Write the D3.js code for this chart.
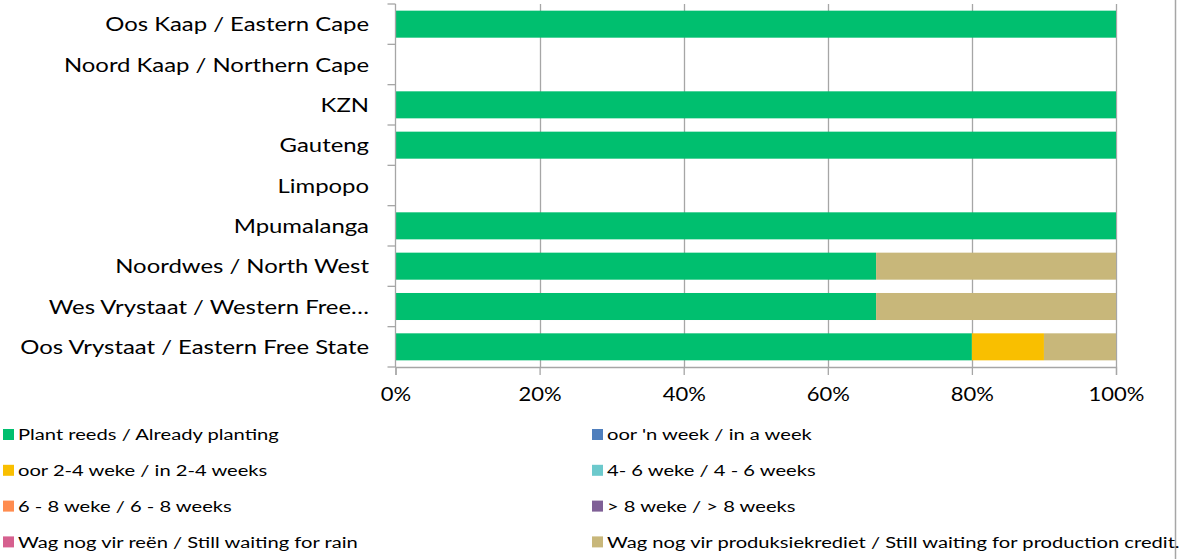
<!DOCTYPE html>
<html>
<head>
<meta charset="utf-8">
<script src="https://cdn.jsdelivr.net/npm/d3@7"></script>
<style>
  body { margin: 0; background: #fff; }
  svg { display: block; font-family: Lato, "Open Sans", sans-serif; }
</style>
</head>
<body>
<svg id="chart" width="1182" height="559"></svg>
<script>
// provinces, top to bottom as drawn
var provinces = ['Oos Kaap / Eastern Cape', 'Noord Kaap / Northern Cape', 'KZN', 'Gauteng', 'Limpopo',
    'Mpumalanga', 'Noordwes / North West', 'Wes Vrystaat / Western Free\u2026', 'Oos Vrystaat / Eastern Free State']

var seriesNames = ['Plant reeds / Already planting', "oor 'n week / in a week", 'oor 2-4 weke / in 2-4 weeks',
    '4- 6 weke / 4 - 6 weeks', '6 - 8 weke / 6 - 8 weeks', '> 8 weke / > 8 weeks',
    'Wag nog vir re\u00ebn / Still waiting for rain', 'Wag nog vir produksiekrediet / Still waiting for production credit.']

var seriesColors = ['#00bf6f', '#4f7fbd', '#f9bf00', '#6cc9cc', '#ff8c4f', '#7f5f96', '#d6608f', '#c8b77a']

// shares per province (fractions), one array per series
var alreadyPlanting = [1, 0, 1, 1, 0, 1, 0.667, 0.667, 0.8]
var inAWeek         = [0, 0, 0, 0, 0, 0, 0, 0, 0]
var in2to4          = [0, 0, 0, 0, 0, 0, 0, 0, 0.1]
var in4to6          = [0, 0, 0, 0, 0, 0, 0, 0, 0]
var in6to8          = [0, 0, 0, 0, 0, 0, 0, 0, 0]
var over8           = [0, 0, 0, 0, 0, 0, 0, 0, 0]
var waitingRain     = [0, 0, 0, 0, 0, 0, 0, 0, 0]
var waitingCredit   = [0, 0, 0, 0, 0, 0, 0.333, 0.333, 0.1]

var xTicks = [0, 0.2, 0.4, 0.6, 0.8, 1]

var seriesValues = [alreadyPlanting, inAWeek, in2to4, in4to6, in6to8, over8, waitingRain, waitingCredit]

var rows = provinces.map((p, i) => {
    var r = {province: p}
    seriesNames.forEach((s, j) => { r[s] = seriesValues[j][i] })
    return r
})

var svg = d3.select('#chart')
var plot = {left: 395.5, right: 1116, top: 4, bottom: 367}

var xs = d3.scaleLinear().domain([0, 1]).range([plot.left, plot.right])
var ys = d3.scaleBand().domain(provinces).range([plot.top, plot.bottom]).paddingInner(0.33).paddingOuter(0.165)

// right border of the chart area
svg.append('line').attr('x1', 1175.5).attr('x2', 1175.5).attr('y1', 0).attr('y2', 559)
    .style('stroke', '#a6a6a6').style('stroke-width', 1.5)

// gridlines
svg.append('g').selectAll('line').data(xTicks.slice(1)).enter().append('line')
    .attr('x1', d => Math.round(xs(d)) + 0.5).attr('x2', d => Math.round(xs(d)) + 0.5)
    .attr('y1', plot.top).attr('y2', plot.bottom)
    .style('stroke', '#a6a6a6').style('stroke-width', 1.3)

var stack = d3.stack().keys(seriesNames)(rows)

svg.append('g').selectAll('g').data(stack).enter().append('g')
    .style('fill', (d, i) => seriesColors[i])
    .selectAll('rect').data(d => d.filter(v => v[1] - v[0] > 0)).enter().append('rect')
    .attr('x', d => xs(d[0]))
    .attr('width', d => xs(d[1]) - xs(d[0]))
    .attr('y', d => ys(d.data.province))
    .attr('height', ys.bandwidth())

// x axis
var xAxis = svg.append('g').attr('transform', `translate(0,${plot.bottom})`)
    .call(d3.axisBottom(xs).tickValues(xTicks).tickFormat(d3.format('.0%')).tickSize(8).tickPadding(12))
xAxis.select('.domain').style('stroke', '#a6a6a6').style('stroke-width', 1.3)
xAxis.selectAll('.tick line').style('stroke', '#a6a6a6').style('stroke-width', 1.3)
xAxis.selectAll('text').style('font-size', '20px').style('fill', '#000').style('font-family', 'Lato, sans-serif')
    .attr('transform', 'scale(1.1,1)')

// y axis: ticks sit between categories
var yBounds = d3.range(provinces.length + 1).map(i => plot.top + i * (plot.bottom - plot.top) / provinces.length)
svg.append('line').attr('x1', plot.left).attr('x2', plot.left).attr('y1', plot.top).attr('y2', plot.bottom)
    .style('stroke', '#a6a6a6').style('stroke-width', 1.3)
svg.append('g').selectAll('line').data(yBounds).enter().append('line')
    .attr('x1', plot.left - 8).attr('x2', plot.left)
    .attr('y1', d => d).attr('y2', d => d)
    .style('stroke', '#a6a6a6').style('stroke-width', 1.3)

svg.append('g').selectAll('text').data(provinces).enter().append('text')
    .attr('transform', d => `translate(369,${ys(d) + ys.bandwidth() / 2}) scale(1.195,1)`)
    .attr('dy', '0.35em')
    .attr('text-anchor', 'end')
    .style('font-size', '20px')
    .text(d => d)

// legend, two columns
var legend = svg.append('g').selectAll('g').data(seriesNames).enter().append('g')
    .attr('transform', (d, i) => `translate(${i % 2 ? 592 : 3},${434.5 + Math.floor(i / 2) * 35.8})`)
legend.append('rect').attr('x', 0).attr('y', -5.5).attr('width', 11).attr('height', 11)
    .style('fill', (d, i) => seriesColors[i])
legend.append('text').attr('transform', 'translate(15,0) scale(1.26,1)').attr('dy', '0.35em')
    .style('font-size', '16px')
    .text(d => d)
</script>
</body>
</html>
